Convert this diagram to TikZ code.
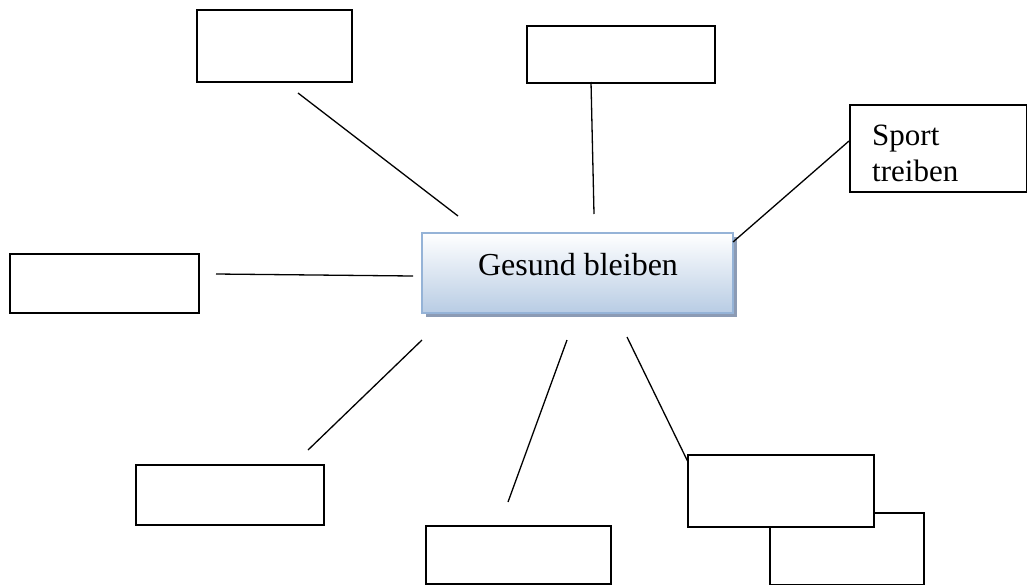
\documentclass[tikz,border=0pt]{standalone}
\usepackage{fontspec}
\setmainfont{Liberation Serif}
\usetikzlibrary{shadows}
\definecolor{cborder}{RGB}{149,179,215}
\definecolor{cbottom}{RGB}{184,204,228}
\definecolor{cshadow}{RGB}{140,155,180}
\tikzset{
  emptybox/.style={draw=black, line width=1.6pt, fill=white, inner sep=0pt, anchor=north west},
  conn/.style={draw=black, line width=1.3pt},
  centerbox/.style={draw=cborder, line width=1.6pt, top color=white, bottom color=cbottom,
     drop shadow={shadow xshift=4pt, shadow yshift=-4pt, fill=cshadow, opacity=1},
     minimum width=311pt, minimum height=80pt, inner sep=0pt}
}
\begin{document}
\begin{tikzpicture}[x=1pt,y=-1pt]
\useasboundingbox (0,0) rectangle (1027,584);
% boxes
\node[emptybox, minimum width=155pt, minimum height=72pt] (tl) at (196,9) {};
\node[emptybox, minimum width=188pt, minimum height=57pt] (tm) at (526,25) {};
\node[emptybox, minimum width=177pt, minimum height=87pt] (sp) at (849,104) {};
\node[anchor=base west, font=\fontsize{31}{36}\selectfont, inner sep=0pt] (sptxt1) at (872,145) {Sport};
\node[anchor=base west, font=\fontsize{31}{36}\selectfont, inner sep=0pt] (sptxt2) at (872,181) {treiben};
\node[emptybox, minimum width=189pt, minimum height=59pt] (lf) at (9,253) {};
\node[emptybox, minimum width=188pt, minimum height=60pt] (bl) at (135,464) {};
\node[emptybox, minimum width=185pt, minimum height=58pt] (bm) at (425,525) {};
\node[emptybox, minimum width=154pt, minimum height=72pt] (brback) at (769,512) {};
\node[emptybox, minimum width=186pt, minimum height=72pt] (brfront) at (687,454) {};
% center
\node[centerbox] (c) at (577.5,273) {};
\node[anchor=base, font=\fontsize{32}{36}\selectfont, inner sep=0pt] (ctxt) at (578,275) {Gesund bleiben};
% line end coordinates
\coordinate (a1) at (298,93);  \coordinate (a2) at (458,216);
\coordinate (b1) at (591,82);  \coordinate (b2) at (594,214);
\coordinate (d1) at (733,242); \coordinate (d2) at (849,141);
\coordinate (e1) at (216,274); \coordinate (e2) at (413,276);
\coordinate (f1) at (422,340); \coordinate (f2) at (308,450);
\coordinate (g1) at (567,340); \coordinate (g2) at (508,502);
\coordinate (h1) at (627,337); \coordinate (h2) at (688,462);
\draw[conn] (a1) -- (a2);
\draw[conn] (b1) -- (b2);
\draw[conn] (d1) -- (d2);
\draw[conn] (e1) -- (e2);
\draw[conn] (f1) -- (f2);
\draw[conn] (g1) -- (g2);
\draw[conn] (h1) -- (h2);
\end{tikzpicture}
\end{document}
